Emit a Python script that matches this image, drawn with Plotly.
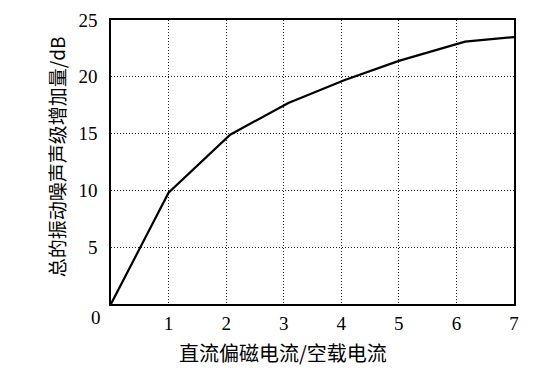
import plotly.graph_objects as go

x_ratio = [0, 1, 2.07, 3.08, 4.05, 5.0, 6.15, 7]
noise_increase = [0, 9.8, 14.9, 17.7, 19.7, 21.4, 23.1, 23.5]
x_ticks = [1, 2, 3, 4, 5, 6, 7]
y_ticks = [5, 10, 15, 20, 25]

font_num = "Liberation Serif"
font_cjk = "Noto Sans CJK SC"

fig = go.Figure()
fig.add_trace(go.Scatter(x=x_ratio, y=noise_increase, mode="lines",
                         line=dict(color="black", width=2.2), showlegend=False))

W, H = 555, 368
L, R, T, B = 111, 41, 10, 64
fig.update_layout(
    width=W, height=H,
    margin=dict(l=L, r=R, t=T, b=B),
    paper_bgcolor="white", plot_bgcolor="white",
    font=dict(family=font_num, size=19, color="black"),
    xaxis=dict(range=[0, 7], tickvals=x_ticks, showgrid=True,
               gridcolor="#222", griddash="1px,2px", gridwidth=1.3,
               showline=True, linecolor="black", linewidth=1.5, mirror=True,
               ticks="", ticklabelstandoff=1, zeroline=False,
               tickfont=dict(family=font_num, size=19)),
    yaxis=dict(range=[0, 25], tickvals=y_ticks, showgrid=True,
               gridcolor="#222", griddash="1px,2px", gridwidth=1.3,
               showline=True, linecolor="black", linewidth=1.5, mirror=True,
               ticks="", ticklabelstandoff=8, zeroline=False,
               tickfont=dict(family=font_num, size=19)),
)

pw = W - L - R
ph = H - T - B
def px_x(p):
    return (p - L) / pw
def px_y(p):
    return (H - B - p) / ph

fig.add_annotation(text="0", xref="paper", yref="paper",
                   x=px_x(96), y=px_y(318), showarrow=False,
                   xanchor="center", yanchor="middle",
                   font=dict(family=font_num, size=19))
fig.add_annotation(text="直流偏磁电流/空载电流", xref="paper", yref="paper",
                   x=px_x(283), y=px_y(354), showarrow=False,
                   xanchor="center", yanchor="middle",
                   font=dict(family=font_cjk, size=20))
fig.add_annotation(text="总的振动噪声声级增加量/dB", xref="paper", yref="paper",
                   x=px_x(56), y=px_y(152), showarrow=False, textangle=-90,
                   xanchor="center", yanchor="middle",
                   font=dict(family=font_cjk, size=19))

fig.write_html("out.html")
